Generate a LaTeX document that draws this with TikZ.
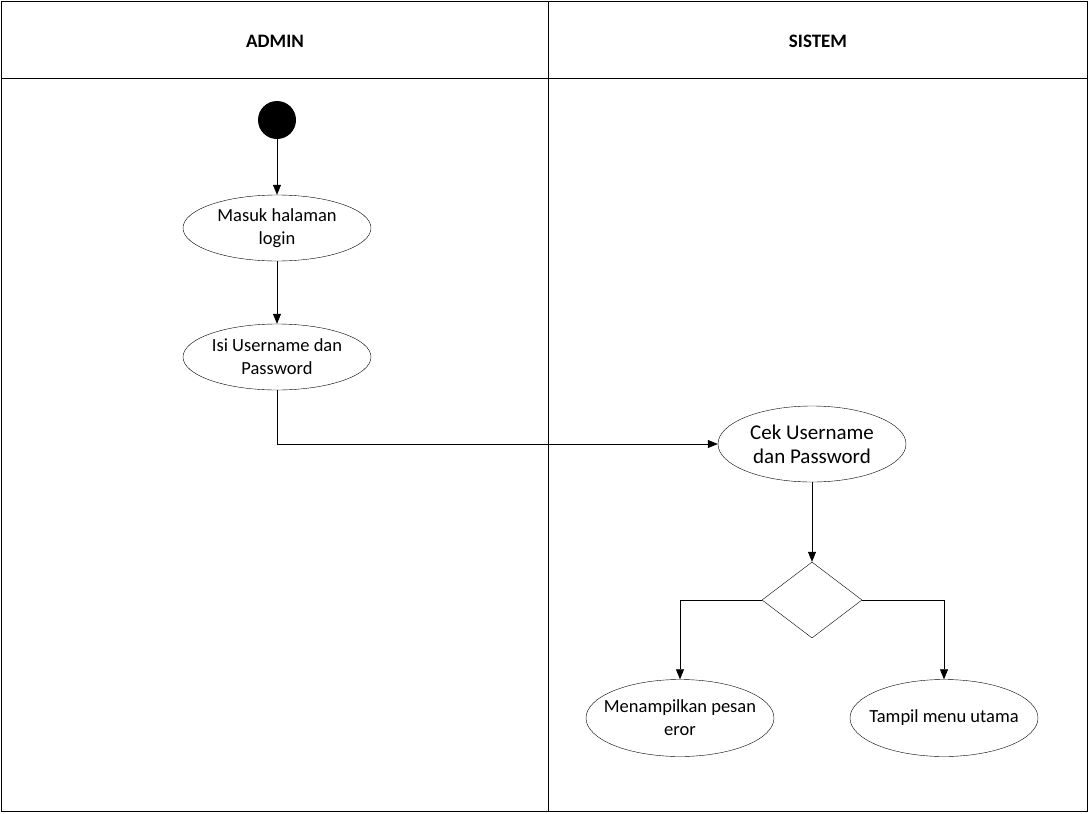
\documentclass[tikz,border=0pt]{standalone}
\usepackage{fontspec}
\setmainfont{Carlito}
\usetikzlibrary{arrows.meta, shapes.geometric}

\begin{document}
\begin{tikzpicture}[x=1pt, y=-1pt,
    act/.style={ellipse, draw, minimum width=188pt, minimum height=66pt,
        align=center, inner ysep=0pt, inner xsep=-18pt,
        font=\fontsize{18.5}{23}\selectfont},
    lane/.style={font=\bfseries\fontsize{19}{23}\selectfont},
    flow/.style={-{Triangle[length=10pt, width=8pt]}, semithick}]
    \useasboundingbox (0,0) rectangle (1090,814);

    % swimlanes
    \draw[thick] (1.5,1.5) rectangle (1087.5,811.5);
    \draw[thick] (1.5,78) -- (1087.5,78);
    \draw[thick] (548,1.5) -- (548,811.5);
    \node (admin) at (275,41) [lane] {ADMIN};
    \node (sistem) at (818,41) [lane] {SISTEM};

    \node (start) at (277,120) [circle, fill=black, minimum size=38pt, inner sep=0pt] {};
    \node (masuk) at (277,228) [act] {Masuk halaman\\login};
    \node (isi) at (277,357) [act] {Isi Username dan\\Password};
    \node (cek) at (812,444) [act, minimum height=76pt,
        font=\fontsize{21}{24}\selectfont] {Cek Username\\dan Password};
    \node (cabang) at (812,600) [diamond, draw, minimum width=100pt,
        minimum height=76pt, inner sep=0pt, aspect=1.3] {};
    \node (eror) at (680,718) [act, minimum height=77pt] {Menampilkan pesan\\eror};
    \node (menu) at (944,718) [act, minimum height=77pt] {Tampil menu utama};

    \draw[flow] (start) -- (masuk);
    \draw[flow] (masuk) -- (isi);
    \draw[flow] (isi.south) |- (cek.west);
    \draw[flow] (cek) -- (cabang);
    \draw[flow] (cabang.west) -| (eror.north);
    \draw[flow] (cabang.east) -| (menu.north);
\end{tikzpicture}
\end{document}
